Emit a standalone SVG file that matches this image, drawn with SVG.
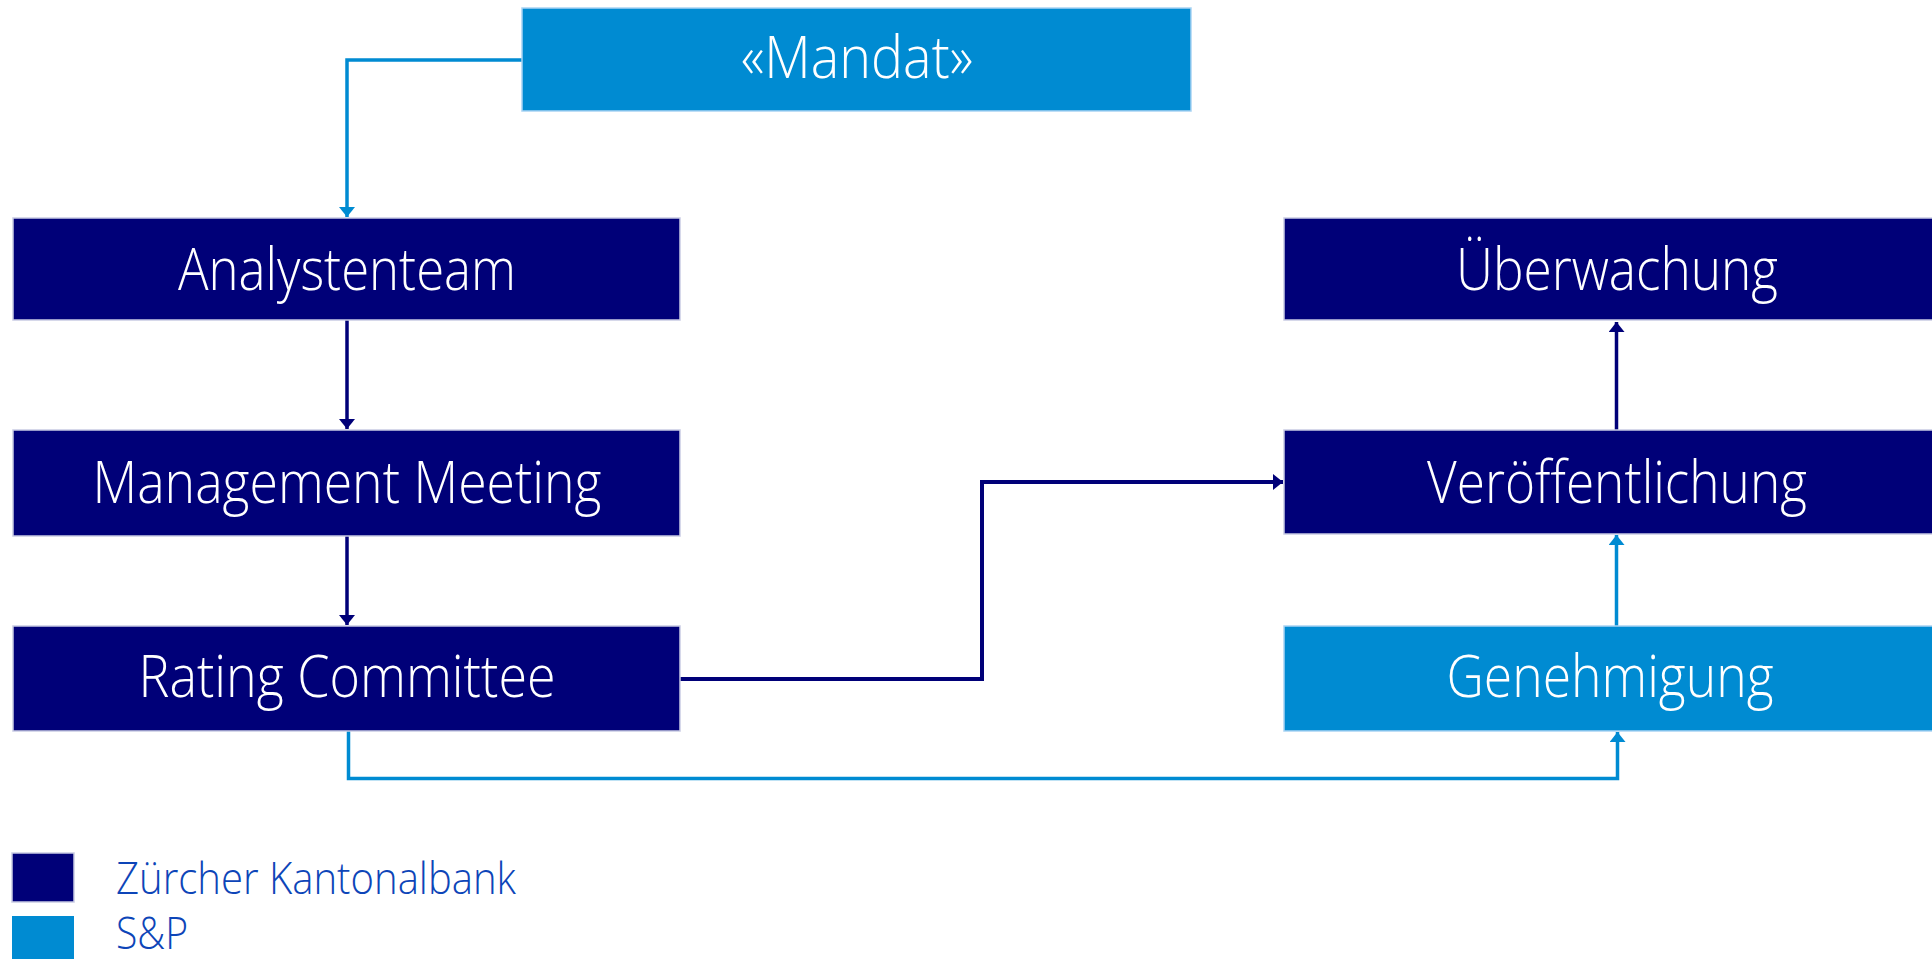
<svg xmlns="http://www.w3.org/2000/svg" width="1932" height="959" viewBox="0 0 1932 959">
<style>
.zkb{fill:#000078;stroke:#c9cbe3;stroke-width:1.5}
.sp{fill:#008bd2;stroke:#a9d3f3;stroke-width:1.5}
.lbl{font-family:"Open Sans","Noto Sans","Liberation Sans",sans-serif;font-weight:300;font-size:58px;fill:#ffffff;text-anchor:middle}
.leg{font-family:"Open Sans","Noto Sans","Liberation Sans",sans-serif;font-weight:300;font-size:45px;fill:#0d45b8}
.cn{fill:none;stroke:#000078;stroke-width:3.5}
.cs{fill:none;stroke:#008bd2;stroke-width:3.5}
</style>
<defs>
<marker id="an" viewBox="0 0 10 10" refX="10" refY="5" markerWidth="10" markerHeight="16" markerUnits="userSpaceOnUse" orient="auto" preserveAspectRatio="none"><path d="M0,0 L10,5 L0,10 z" fill="#000078"/></marker>
<marker id="as" viewBox="0 0 10 10" refX="10" refY="5" markerWidth="10" markerHeight="16" markerUnits="userSpaceOnUse" orient="auto" preserveAspectRatio="none"><path d="M0,0 L10,5 L0,10 z" fill="#008bd2"/></marker>
</defs>
<rect width="1932" height="959" fill="#ffffff"/>
<g id="connectors">
<path class="cs" d="M522,60 H347 V217" marker-end="url(#as)"/>
<path class="cn" d="M347,320 V429" marker-end="url(#an)"/>
<path class="cn" d="M347,536 V625" marker-end="url(#an)"/>
<path class="cn" style="stroke-width:4" d="M680,679 H982 V482 H1283" marker-end="url(#an)"/>
<path class="cs" d="M348.5,731 V778.5 H1617.5 V732" marker-end="url(#as)"/>
<path class="cs" d="M1616.5,626 V535" marker-end="url(#as)"/>
<path class="cn" d="M1616.5,430 V322" marker-end="url(#an)"/>
</g>
<g id="mandat"><rect class="sp" x="522" y="8" width="669" height="103"/><text class="lbl" x="857" y="78" textLength="232" lengthAdjust="spacingAndGlyphs">«Mandat»</text></g>
<g id="analystenteam"><rect class="zkb" x="13" y="218" width="667" height="102"/><text class="lbl" x="347" y="290" textLength="338" lengthAdjust="spacingAndGlyphs">Analystenteam</text></g>
<g id="management-meeting"><rect class="zkb" x="13" y="430" width="667" height="106"/><text class="lbl" x="347" y="503" textLength="509" lengthAdjust="spacingAndGlyphs">Management Meeting</text></g>
<g id="rating-committee"><rect class="zkb" x="13" y="626" width="667" height="105"/><text class="lbl" x="347" y="697" textLength="417" lengthAdjust="spacingAndGlyphs">Rating Committee</text></g>
<g id="ueberwachung"><rect class="zkb" x="1284" y="218" width="667" height="102"/><text class="lbl" x="1617" y="290" textLength="322" lengthAdjust="spacingAndGlyphs">Überwachung</text></g>
<g id="veroeffentlichung"><rect class="zkb" x="1284" y="430" width="667" height="104"/><text class="lbl" x="1617" y="503" textLength="380" lengthAdjust="spacingAndGlyphs">Veröffentlichung</text></g>
<g id="genehmigung"><rect class="sp" x="1284" y="626" width="667" height="105"/><text class="lbl" x="1610" y="697" textLength="327" lengthAdjust="spacingAndGlyphs">Genehmigung</text></g>
<g id="legend">
<rect class="zkb" x="12" y="853" width="62" height="49"/>
<text class="leg" x="116" y="894" textLength="400" lengthAdjust="spacingAndGlyphs">Zürcher Kantonalbank</text>
<rect class="sp" x="12" y="916" width="62" height="44" style="stroke:none"/>
<text class="leg" x="116" y="949" textLength="72" lengthAdjust="spacingAndGlyphs">S&amp;P</text>
</g>
</svg>
